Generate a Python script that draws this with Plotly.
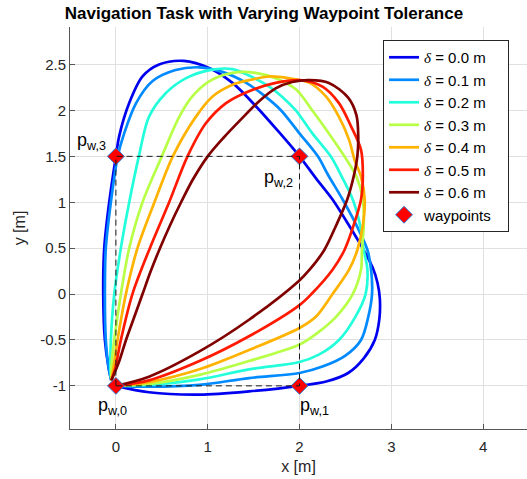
import plotly.graph_objects as go

# ---------------- data ----------------
tolerances = ["0.0", "0.1", "0.2", "0.3", "0.4", "0.5", "0.6"]

x_d00 = [0, 0.36, 0.91, 1.45, 2.0, 2.3, 2.53, 2.70, 2.82, 2.87, 2.875, 2.85, 2.80, 2.71, 2.55, 2.36, 2.18, 2.0,
         1.78, 1.54, 1.27, 1.02, 0.74, 0.47, 0.29, 0.145, 0.036, 0.0, -0.073, -0.127, -0.138, -0.12, -0.08, -0.05]
y_d00 = [-1.0, -1.07, -1.095, -1.06, -1.0, -0.95, -0.86, -0.70, -0.5, -0.27, -0.05, 0.12, 0.28, 0.46, 0.73, 1.03, 1.26, 1.5,
         1.76, 2.03, 2.30, 2.46, 2.54, 2.50, 2.37, 2.08, 1.72, 1.5, 1.0, 0.5, 0.0, -0.5, -0.8, -0.94]

x_d01 = [0, 0.36, 0.91, 1.45, 2.0, 2.25, 2.50, 2.67, 2.75, 2.79, 2.78, 2.74, 2.62, 2.47, 2.31, 2.20, 2.0, 1.80,
         1.63, 1.42, 1.16, 0.91, 0.65, 0.40, 0.22, 0.09, 0.02, -0.055, -0.11, -0.12, -0.11, -0.08, -0.05]
y_d01 = [-1, -1.01, -0.99, -0.915, -0.86, -0.79, -0.67, -0.5, -0.245, 0.0, 0.265, 0.48, 0.75, 1.03, 1.30, 1.5, 1.75, 2.0,
         2.15, 2.30, 2.42, 2.47, 2.44, 2.32, 2.08, 1.75, 1.5, 1.0, 0.5, 0.0, -0.5, -0.8, -0.94]

x_d02 = [0, 0.36, 0.91, 1.45, 2.0, 2.21, 2.43, 2.61, 2.72, 2.74, 2.70, 2.66, 2.58, 2.46, 2.34, 2.14, 1.96, 1.81,
         1.67, 1.45, 1.27, 1.02, 0.76, 0.545, 0.36, 0.25, 0.145, 0.054, -0.018, -0.055, -0.06, -0.05]
y_d02 = [-1, -0.99, -0.93, -0.82, -0.74, -0.66, -0.5, -0.245, 0.0, 0.265, 0.48, 0.75, 1.03, 1.28, 1.5, 1.75, 2.0, 2.15,
         2.26, 2.38, 2.45, 2.44, 2.35, 2.19, 1.93, 1.5, 1.0, 0.5, 0.0, -0.5, -0.8, -0.94]

x_d03 = [0, 0.36, 0.91, 1.45, 2.0, 2.2, 2.40, 2.58, 2.67, 2.68, 2.70, 2.69, 2.62, 2.49, 2.32, 2.14, 1.96, 1.74,
         1.52, 1.27, 1.02, 0.83, 0.69, 0.50, 0.29, 0.145, 0.054, -0.018, -0.05, -0.05]
y_d03 = [-1, -0.98, -0.88, -0.73, -0.55, -0.42, -0.245, 0.0, 0.265, 0.48, 0.75, 1.03, 1.28, 1.5, 1.75, 2.0, 2.23, 2.35,
         2.41, 2.41, 2.32, 2.15, 1.93, 1.5, 1.0, 0.5, 0.0, -0.5, -0.8, -0.94]

x_d04 = [0, 0.36, 0.91, 1.45, 2.0, 2.18, 2.36, 2.54, 2.63, 2.69, 2.71, 2.67, 2.60, 2.54, 2.43, 2.29, 2.11, 1.89,
         1.67, 1.45, 1.27, 1.05, 0.87, 0.62, 0.42, 0.235, 0.109, 0.018, -0.03, -0.05]
y_d04 = [-1, -0.96, -0.82, -0.61, -0.37, -0.245, 0.0, 0.265, 0.48, 0.75, 1.03, 1.28, 1.46, 1.68, 1.93, 2.15, 2.30, 2.35,
         2.37, 2.33, 2.28, 2.15, 1.93, 1.5, 1.0, 0.5, 0.0, -0.5, -0.82, -0.94]

x_d05 = [0, 0.36, 0.91, 1.45, 2.0, 2.13, 2.36, 2.49, 2.59, 2.67, 2.69, 2.67, 2.56, 2.43, 2.25, 2.0, 1.74, 1.45,
         1.20, 0.98, 0.78, 0.58, 0.37, 0.18, 0.054, -0.01, -0.05]
y_d05 = [-1, -0.94, -0.73, -0.46, -0.12, 0.0, 0.265, 0.48, 0.75, 1.03, 1.28, 1.57, 1.83, 2.08, 2.26, 2.33, 2.30, 2.21,
         2.08, 1.86, 1.5, 1.0, 0.5, 0.0, -0.5, -0.82, -0.94]

x_d06 = [0, 0.36, 0.91, 1.45, 1.99, 2.11, 2.27, 2.40, 2.52, 2.59, 2.63, 2.64, 2.62, 2.53, 2.32, 2.11, 1.92, 1.74,
         1.56, 1.36, 1.17, 1.0, 0.84, 0.71, 0.59, 0.48, 0.38, 0.29, 0.20, 0.11, 0.03, -0.05]
y_d06 = [-1, -0.90, -0.625, -0.28, 0.14, 0.265, 0.48, 0.75, 1.03, 1.28, 1.50, 1.72, 1.95, 2.14, 2.30, 2.33, 2.31, 2.24,
         2.10, 1.90, 1.70, 1.5, 1.25, 1.0, 0.75, 0.5, 0.25, 0.0, -0.25, -0.5, -0.75, -0.94]

wp_x = [0, 2, 2, 0]
wp_y = [-1, -1, 1.5, 1.5]
wp_names = ["p<sub>w,0</sub>", "p<sub>w,1</sub>", "p<sub>w,2</sub>", "p<sub>w,3</sub>"]

xs = [x_d00, x_d01, x_d02, x_d03, x_d04, x_d05, x_d06]
ys = [y_d00, y_d01, y_d02, y_d03, y_d04, y_d05, y_d06]

# ---------------- styles ----------------
colors = ["#0000f0", "#008aff", "#24ffdb", "#b8ff47", "#ffb300", "#ff1a00", "#800000"]
FONT = "Liberation Sans, Arial, Helvetica, sans-serif"
DELTA = "<span style='font-family:Liberation Serif, DejaVu Serif, serif'><i>δ</i></span>"
PAD = "\u00a0" * 4   # right padding inside the legend box

fig = go.Figure()
for tol, xv, yv, c in zip(tolerances, xs, ys, colors):
    fig.add_trace(go.Scatter(
        x=xv, y=yv, mode="lines", name=f"{DELTA} = {tol} m{PAD}",
        line=dict(color=c, width=2.7, shape="spline", smoothing=0.9),
        hoverinfo="skip"))

fig.add_trace(go.Scatter(
    x=wp_x, y=wp_y, mode="markers", name="waypoints",
    marker=dict(symbol="diamond", size=13, color="#ff0000",
                line=dict(color="#2a7fd4", width=1)),
    hoverinfo="skip"))

# dashed reference rectangle through the waypoints
fig.add_trace(go.Scatter(
    x=wp_x + wp_x[:1], y=wp_y + wp_y[:1], mode="lines", showlegend=False,
    line=dict(color="#1a1a1a", width=1, dash="6px,4px"), hoverinfo="skip"))

# waypoint labels (offsets are layout choices)
label_offsets = [(-0.04, -0.22), (0.16, -0.22), (-0.23, -0.24), (-0.27, 0.16)]
for (px, py), name, (dx, dy) in zip(zip(wp_x, wp_y), wp_names, label_offsets):
    fig.add_annotation(x=px + dx, y=py + dy, text=name, showarrow=False,
                       xanchor="center", yanchor="middle",
                       font=dict(family=FONT, size=18, color="#000000"))

x_ticks = [0, 1, 2, 3, 4]
y_ticks = [-1, -0.5, 0, 0.5, 1, 1.5, 2, 2.5]
y_tick_text = ["-1", "-0.5", "0", "0.5", "1", "1.5", "2", "2.5"]

axis_common = dict(showline=True, linecolor="#555555", linewidth=1, mirror=False,
                   showgrid=True, gridcolor="#e0e0e0", gridwidth=1, zeroline=False,
                   ticks="inside", ticklen=5, tickcolor="#555555", automargin=False,
                   tickfont=dict(family=FONT, size=15, color="#262626"))

fig.update_layout(
    width=527, height=479,
    margin=dict(l=70, r=0, t=27, b=50),
    paper_bgcolor="white", plot_bgcolor="white",
    hovermode=False,
    title=dict(text="<b>Navigation Task with Varying Waypoint Tolerance</b>",
               x=264 / 527, xref="container", xanchor="center",
               y=1 - 13 / 479, yref="container", yanchor="middle",
               font=dict(family=FONT, size=17, color="#000000")),
    xaxis=dict(range=[-0.5, -0.5 + 457 / 91.8], tickvals=x_ticks, ticklabelstandoff=4,
               title=dict(text="x [m]", standoff=6, font=dict(family=FONT, size=16, color="#262626")),
               **axis_common),
    yaxis=dict(range=[-1.47, -1.47 + 402 / 91.8], tickvals=y_ticks, ticktext=y_tick_text,
               title=dict(text="y [m]", standoff=10, font=dict(family=FONT, size=16, color="#262626")),
               **axis_common),
    legend=dict(x=0.685, y=0.9676, xanchor="left", yanchor="top",
                bgcolor="white", bordercolor="#262626", borderwidth=1,
                font=dict(family=FONT, size=15, color="#000000"),
                tracegroupgap=0),
    showlegend=True,
)

fig.write_html("out.html", config={"displayModeBar": False},
               post_script="document.body.style.margin='0px';")
